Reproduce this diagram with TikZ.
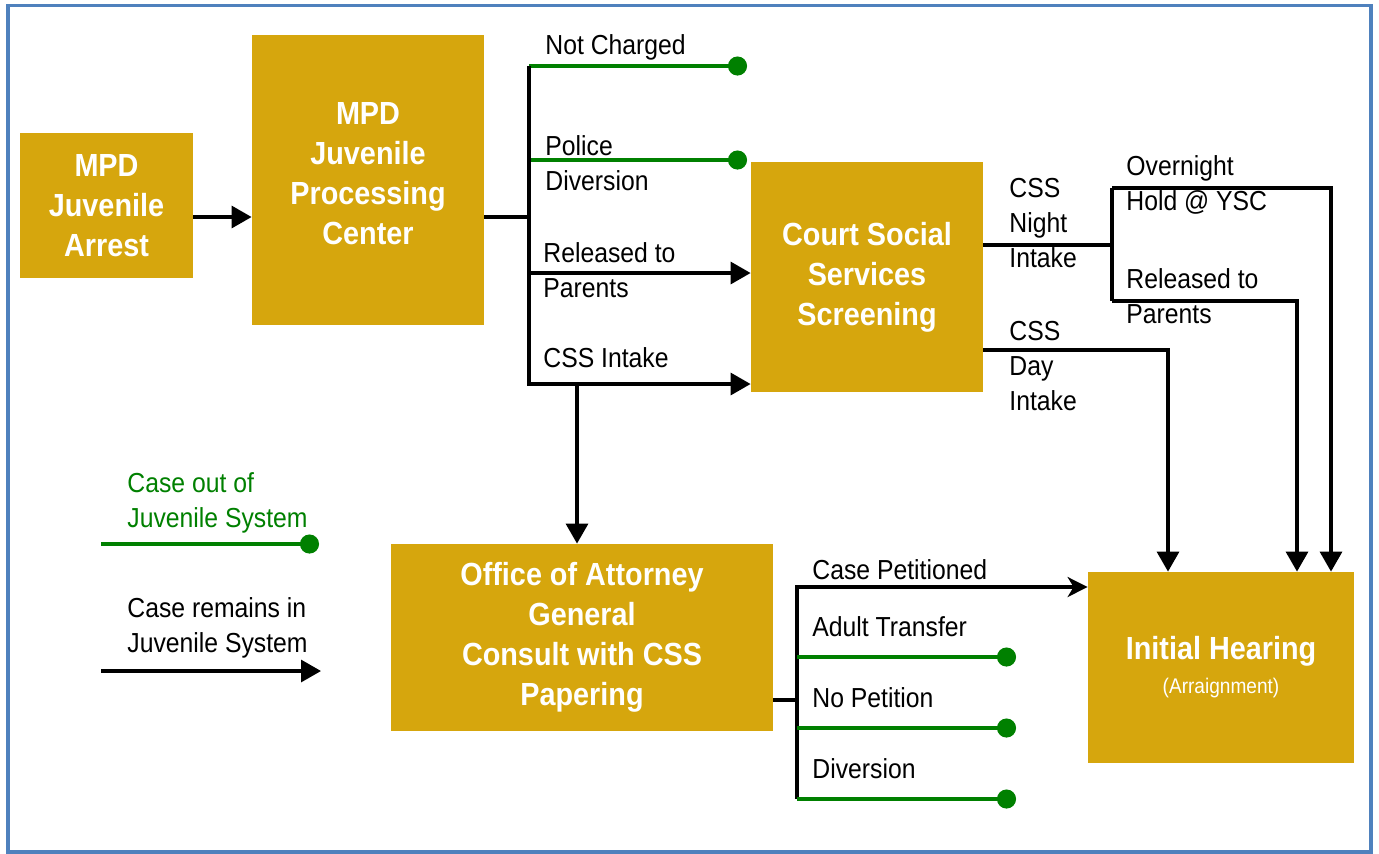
\documentclass[tikz,border=0pt]{standalone}
\usepackage{fontspec}
\setmainfont{Liberation Sans}[FakeStretch=0.9]
\usetikzlibrary{arrows.meta}
\definecolor{gold}{HTML}{D6A60D}
\definecolor{grn}{HTML}{008000}
\definecolor{framecol}{HTML}{4F81BD}
\begin{document}
\begin{tikzpicture}[x=0.5pt,y=-0.5pt,
  box/.style={fill=gold, draw=none, text=white, font=\fontsize{16}{20}\selectfont\bfseries, align=center, inner sep=0pt},
  boxtext/.style={text=white, font=\fontsize{16}{20}\selectfont\bfseries, align=center, inner sep=0pt},
  lbl/.style={font=\fontsize{13.75}{17.5}\selectfont, align=left, anchor=west, inner sep=0pt},
  wire/.style={line width=1.6pt, draw=black},
  flow/.style={line width=1.6pt, draw=black, -{Triangle[length=10pt,width=11pt]}},
  flowb/.style={line width=1.6pt, draw=black, -{Stealth[length=10pt,width=10pt,inset=3pt]}},
  exit/.style={line width=2.4pt, draw=grn, -{Circle[length=9.5pt]}, fill=grn}]
\useasboundingbox (0,0) rectangle (1379,853);
\draw[framecol, line width=1.75pt] (8,5.5) rectangle (1371,852);

% boxes
\node[box, minimum width=86.5pt, minimum height=72.5pt] (arrest) at (106.5,205.5) {MPD\\Juvenile\\Arrest};
\node[box, minimum width=116pt, minimum height=145pt] (proc) at (368,180) {};
\node[boxtext] (proctext) at (368,174) {MPD\\Juvenile\\Processing\\Center};
\node[box, minimum width=116pt, minimum height=115pt] (css) at (867,277) {Court Social\\Services\\Screening};
\node[box, minimum width=191pt, minimum height=93.5pt] (oag) at (582,637.5) {Office of Attorney\\General\\Consult with CSS\\Papering};
\node[box, minimum width=133pt, minimum height=95.5pt] (ih) at (1221,667.5) {Initial Hearing\\[-3pt]{\fontsize{10.6}{12}\selectfont\mdseries(Arraignment)}};

% coordinates
\coordinate (pa) at (529,217);
\coordinate (pt) at (529,66);
\coordinate (pp) at (529,160);
\coordinate (pr) at (529,273);
\coordinate (pb) at (529,384);
\coordinate (pd) at (577,384);
\coordinate (nc) at (747,66);
\coordinate (pdv) at (747,160);
\coordinate (na) at (1112,245);
\coordinate (nt) at (1112,188);
\coordinate (nb) at (1112,301);
\coordinate (xo) at (1331,0);
\coordinate (xr) at (1297,0);
\coordinate (da) at (983,350);
\coordinate (xd) at (1168,0);
\coordinate (oa) at (797,700);
\coordinate (ot) at (797,587);
\coordinate (o1) at (797,657);
\coordinate (o2) at (797,728);
\coordinate (o3) at (797,799);
\coordinate (e1) at (1016,657);
\coordinate (e2) at (1016,728);
\coordinate (e3) at (1016,799);
\coordinate (lg0) at (101,544);
\coordinate (lg1) at (319,544);
\coordinate (lb0) at (101,671);
\coordinate (lb1) at (321,671);

% arrest -> processing
\draw[flow] (arrest.east |- pa) -- (proc.west |- pa);
% processing fan-out
\draw[wire] (proc.east |- pa) -- (pa);
\draw[exit] (pt) -- (nc);
\draw[exit] (pp) -- (pdv);
\draw[flow] (pt) -- (pb) -- (css.west |- pb);
\draw[flow] (pr) -- (css.west |- pr);
\draw[flow] (pd) -- (oag.north -| pd);

% CSS outputs
\draw[wire] (css.east |- na) -- (na);
\draw[wire] (nb) -- (nt);
\draw[flow] (nt) -| (ih.north -| xo);
\draw[flow] (nb) -| (ih.north -| xr);
\draw[flow] (css.east |- da) -| (ih.north -| xd);

% OAG outputs
\draw[wire] (oag.east |- oa) -- (oa);
\draw[flowb] (o3) -- (ot) -- (ih.west |- ot);
\draw[exit] (o1) -- (e1);
\draw[exit] (o2) -- (e2);
\draw[exit] (o3) -- (e3);

% legend
\draw[exit] (lg0) -- (lg1);
\draw[flow] (lb0) -- (lb1);

% labels
\node[lbl] (lnc) at (545,47) {Not Charged};
\node[lbl] (lpd) at (545,163.5) {Police\\Diversion};
\node[lbl] (lrp) at (543,270.5) {Released to\\Parents};
\node[lbl] (lci) at (543,358) {CSS Intake};
\node[lbl] (lni) at (1009,223) {CSS\\Night\\Intake};
\node[lbl] (ldi) at (1009,366) {CSS\\Day\\Intake};
\node[lbl] (loh) at (1126,185) {Overnight\\Hold @ YSC};
\node[lbl] (lrp2) at (1126,296.5) {Released to\\Parents};
\node[lbl] (lcp) at (812,570) {Case Petitioned};
\node[lbl] (lat) at (812,627) {Adult Transfer};
\node[lbl] (lnp) at (812,698) {No Petition};
\node[lbl] (ldv) at (812,769) {Diversion};
\node[lbl, text=grn] (lgo) at (127,503) {Case out of\\Juvenile System};
\node[lbl] (lgr) at (127,627.5) {Case remains in\\Juvenile System};
\end{tikzpicture}
\end{document}
